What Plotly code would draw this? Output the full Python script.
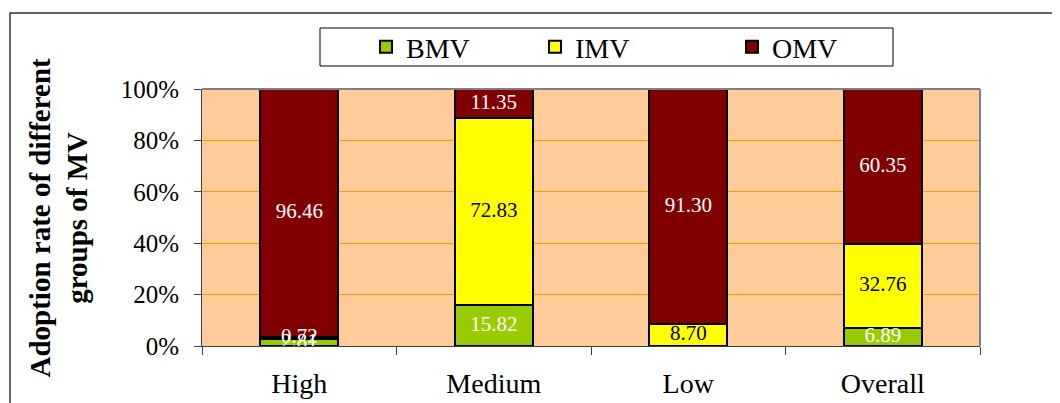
import plotly.graph_objects as go

categories = ["High", "Medium", "Low", "Overall"]
bmv = [2.81, 15.82, 0.0, 6.89]
imv = [0.72, 72.83, 8.70, 32.76]
omv = [96.46, 11.35, 91.30, 60.35]
y_ticks = [0, 20, 40, 60, 80, 100]
y_tick_labels = ["0%", "20%", "40%", "60%", "80%", "100%"]

FONT = "Liberation Serif"

def fmt(vals):
    return ["" if v == 0 else f"{v:.2f}" for v in vals]

series = [
    ("BMV", bmv, "#99CC00", ["white"] * 4, 124),
    ("IMV", imv, "#FFFF00", ["white", "black", "black", "black"], 152),
    ("OMV", omv, "#800000", ["white"] * 4, 140),
]

fig = go.Figure()
base = [0.0] * len(categories)
for name, vals, color, tcolors, lw in series:
    fig.add_trace(go.Bar(
        name=name, x=categories, y=vals,
        marker=dict(color=color, line=dict(color="black", width=2)),
        textposition="none", hoverinfo="skip", legendwidth=lw,
    ))
    mids = [b + v / 2 for b, v in zip(base, vals)]
    fig.add_trace(go.Scatter(
        x=categories, y=mids, mode="text", text=fmt(vals),
        textposition="middle center", cliponaxis=False, showlegend=False,
        textfont=dict(family=FONT, size=21, color=tcolors), hoverinfo="skip",
    ))
    base = [b + v for b, v in zip(base, vals)]

# page body has an 8px margin
OFF = 8
W, H = 1044, 395
L, R, T, B = 194, 72, 81, 57
pw, ph = W - L - R, H - T - B

def px(sx):
    return (sx - OFF - L) / pw

def py(sy):
    return (H - B - (sy - OFF)) / ph

fig.update_layout(
    width=W, height=H, barmode="stack", bargap=0.6,
    margin=dict(l=L, r=R, t=T, b=B, autoexpand=False),
    paper_bgcolor="white", plot_bgcolor="#FFCC99",
    font=dict(family=FONT, size=25, color="black"),
    showlegend=True,
    legend=dict(
        orientation="h", x=px(366), y=py(47), xanchor="left", yanchor="middle",
        bgcolor="rgba(0,0,0,0)", borderwidth=0,
        traceorder="normal",
        font=dict(family=FONT, size=28),
    ),
    xaxis=dict(
        showline=True, linecolor="#404040", linewidth=1,
        ticks="outside", tickson="boundaries", ticklen=8, tickcolor="#404040",
        ticklabelstandoff=12,
        tickfont=dict(family=FONT, size=28), showgrid=False,
    ),
    yaxis=dict(
        range=[0, 100], tickvals=y_ticks, ticktext=y_tick_labels,
        showline=True, linecolor="#404040", linewidth=1,
        ticks="outside", ticklen=7, tickcolor="#404040",
        ticklabelstandoff=10,
        tickfont=dict(family=FONT, size=25),
        showgrid=True, gridcolor="#FF9900", gridwidth=1, zeroline=False,
    ),
    shapes=[
        dict(type="line", xref="paper", yref="paper", x0=0, x1=1, y0=1, y1=1,
             line=dict(color="#808080", width=2)),
        dict(type="line", xref="paper", yref="paper", x0=1, x1=1, y0=0, y1=1,
             line=dict(color="#808080", width=2)),
        dict(type="rect", xref="paper", yref="paper",
             x0=px(10), x1=px(1100), y0=py(13), y1=py(450),
             line=dict(color="#333333", width=1.5), fillcolor="rgba(0,0,0,0)"),
        dict(type="rect", xref="paper", yref="paper",
             x0=px(320), x1=px(893), y0=py(28), y1=py(66),
             line=dict(color="black", width=1), fillcolor="white", layer="below"),
    ],
    annotations=[
        dict(text="<b>Adoption rate of different<br>groups of MV</b>",
             xref="paper", yref="paper", x=px(58), y=0.5, textangle=-90,
             showarrow=False, xanchor="center", yanchor="middle",
             font=dict(family=FONT, size=29)),
    ],
)

fig.write_html("out.html",
               post_script="document.documentElement.style.overflow='hidden';"
                           "document.body.style.overflow='hidden';")
